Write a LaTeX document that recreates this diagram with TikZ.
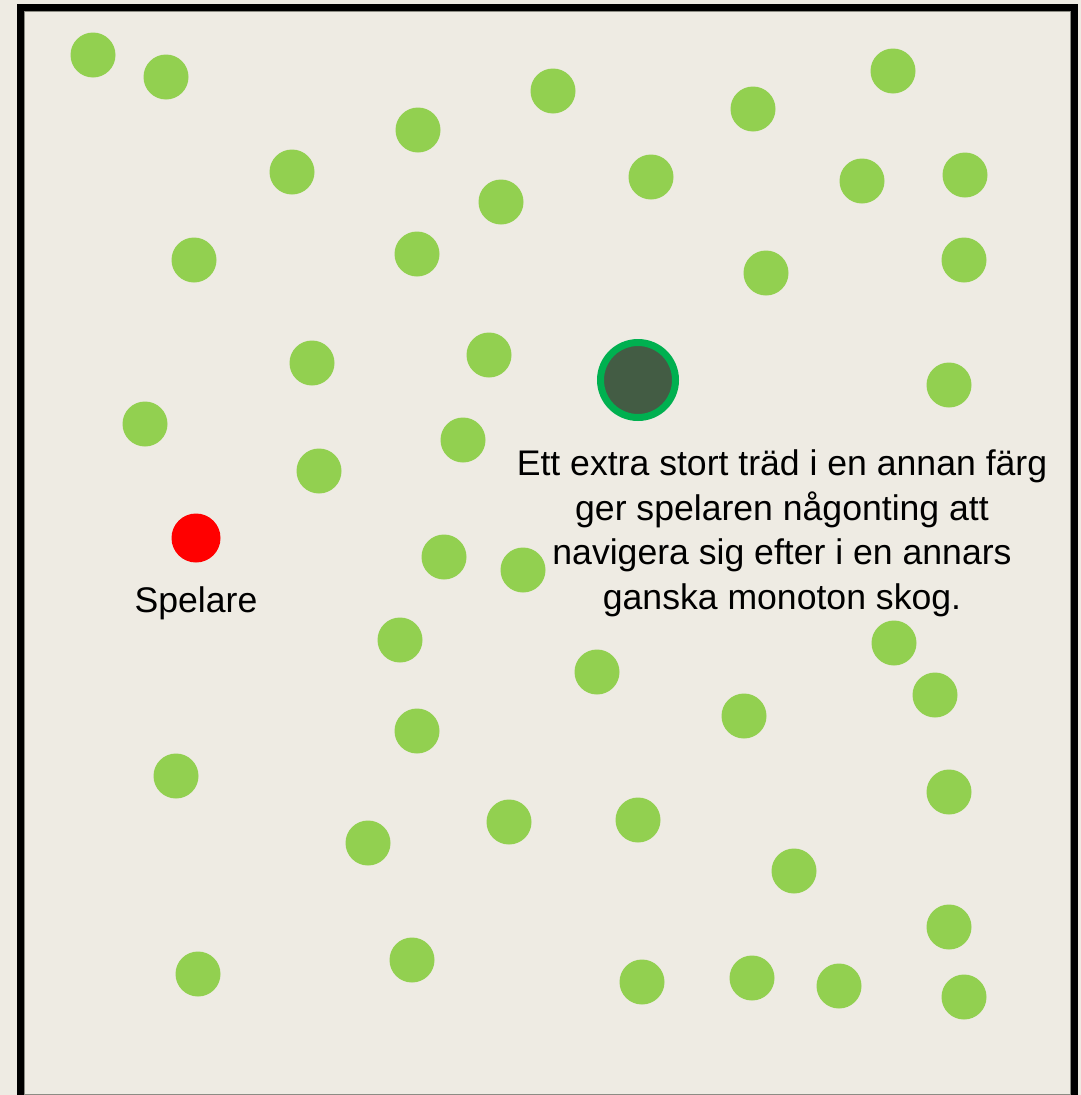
\documentclass[tikz,border=0pt]{standalone}
\usepackage{fontspec}
\setmainfont{Liberation Sans}
\definecolor{paper}{HTML}{EEEBE3}
\definecolor{leaf}{HTML}{92D050}
\definecolor{landmark}{HTML}{435C44}
\definecolor{ring}{HTML}{00B050}
\definecolor{edge}{HTML}{8C8C84}
\begin{document}
\begin{tikzpicture}[x=1pt,y=-1pt,
  tree/.style={circle,fill=leaf,draw=none,minimum size=45pt,inner sep=0pt},
  bigtree/.style={circle,fill=landmark,draw=ring,line width=7pt,minimum size=75pt,inner sep=0pt},
  player/.style={circle,fill=red,draw=none,minimum size=49pt,inner sep=0pt},
  label/.style={font=\fontsize{35.6}{44.5}\selectfont,inner sep=0pt,align=center}]
\useasboundingbox (0,0) rectangle (1081,1095);
\fill[paper] (0,0) rectangle (1081,1095);
% map area outline and thick frame
\draw[edge,line width=1pt] (24.5,11.5) rectangle (1070.5,1094);
\begin{scope}
\clip (0,0) rectangle (1081,1095);
\draw[black,line width=7pt] (20.5,7.5) rectangle (1074.5,1120);
\end{scope}
% ordinary trees
\foreach \n/\px/\py in {
  1/93/55, 2/166/77, 3/553/91, 4/893/71, 5/418/130, 6/753/109,
  7/292/172, 8/651/177, 9/501/202, 10/862/181, 11/965/175,
  12/194/260, 13/417/254, 14/766/273, 15/964/260,
  16/312/363, 17/489/355, 18/949/385, 19/145/424, 20/463/440,
  21/319/471, 22/444/557, 23/523/570, 24/400/640, 25/894/643,
  26/597/672, 27/935/695, 28/744/716, 29/417/731, 30/176/776,
  31/949/792, 32/509/822, 33/638/820, 34/368/843, 35/794/871,
  36/949/927, 37/198/974, 38/412/960, 39/642/982, 40/752/978,
  41/839/986, 42/964/997}
  \node[tree] (t\n) at (\px,\py) {};
% landmark tree and player
\node[bigtree] (landmark) at (638,380) {};
\node[player] (player) at (196,538) {};
\node[label,anchor=base] (playerlabel) at (196,612) {Spelare};
\node[label] (note) at (782,533.5) {Ett extra stort träd i en annan färg\\ger spelaren någonting att\\navigera sig efter i en annars\\ganska monoton skog.};
\end{tikzpicture}
\end{document}
